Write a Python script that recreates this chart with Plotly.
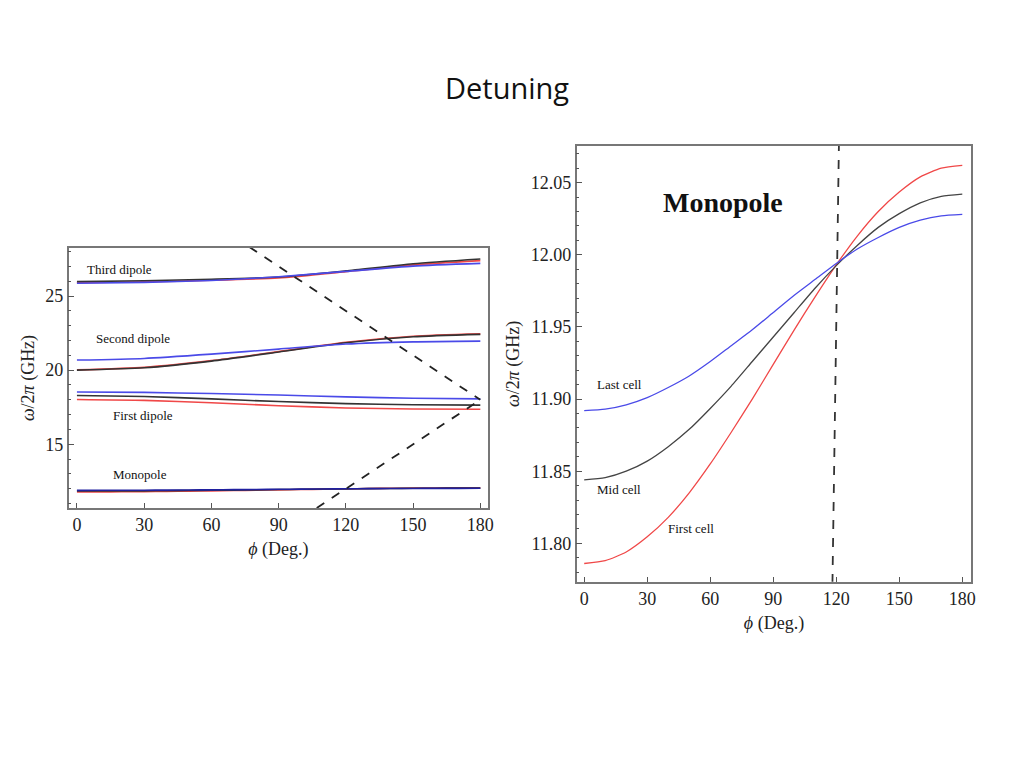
import plotly.graph_objects as go

# ---------------- data ----------------
phi_coarse = [0, 30, 60, 90, 120, 150, 180]

third_black = [25.97, 26.03, 26.13, 26.28, 26.70, 27.18, 27.50]
third_red = [25.90, 25.96, 26.06, 26.22, 26.64, 27.10, 27.39]
third_blue = [25.86, 25.92, 26.05, 26.30, 26.66, 27.02, 27.20]

second_red = [20.02, 20.19, 20.64, 21.25, 21.88, 22.29, 22.45]
second_black = [20.00, 20.16, 20.61, 21.22, 21.85, 22.25, 22.41]
second_blue = [20.68, 20.79, 21.08, 21.42, 21.76, 21.91, 21.96]

first_blue = [18.53, 18.50, 18.42, 18.32, 18.20, 18.10, 18.06]
first_black = [18.29, 18.22, 18.06, 17.88, 17.74, 17.67, 17.64]
first_red = [18.02, 17.96, 17.80, 17.60, 17.45, 17.38, 17.36]

phi_fine = [0, 10, 20, 30, 40, 50, 60, 70, 80, 90,
            100, 110, 120, 130, 140, 150, 160, 170, 180]
mono_last = [11.892, 11.893, 11.896, 11.901, 11.908, 11.916, 11.926,
             11.937, 11.948, 11.960, 11.972, 11.983, 11.994, 12.004,
             12.012, 12.019, 12.024, 12.027, 12.028]
mono_mid = [11.844, 11.8455, 11.850, 11.857, 11.867, 11.879, 11.8935,
            11.909, 11.926, 11.943, 11.960, 11.977, 11.9925, 12.0065,
            12.019, 12.0285, 12.036, 12.0405, 12.042]
mono_first = [11.786, 11.788, 11.794, 11.8045, 11.818, 11.835, 11.855,
              11.877, 11.900, 11.924, 11.948, 11.971, 11.993, 12.013,
              12.030, 12.0435, 12.054, 12.060, 12.062]

light1_phi = [77, 180]
light1_w = [28.3, 18.0]
light2_phi = [107, 180]
light2_w = [10.7, 18.0]
vline_phi = [118.06, 121.4]
vline_w = [11.76, 12.09]

x_ticks = [0, 30, 60, 90, 120, 150, 180]

# ---------------- styles ----------------
RED = "#f04848"
BLACK = "#333333"
BLUE = "#4a4ae8"
SERIF = "Liberation Serif, Times New Roman, serif"
W, H = 1024, 768
OFF = 8  # page body margin


def dx(px):
    return (px - OFF) / W


def dy(py):
    return 1 - (py - OFF) / H


fig = go.Figure()


def add_line(x, y, color, xa, ya, width=1.6, dash=None, smooth=True):
    if dash is None and smooth:
        line = dict(color=color, width=width, shape="spline", smoothing=0.6)
    else:
        line = dict(color=color, width=width, dash=dash)
    fig.add_trace(go.Scatter(x=x, y=y, mode="lines", xaxis=xa, yaxis=ya,
                             line=line, showlegend=False, hoverinfo="skip"))


# left panel
for red, blk, blu in [(third_red, third_black, third_blue),
                      (second_red, second_black, second_blue),
                      (first_red, first_black, first_blue)]:
    add_line(phi_coarse, red, RED, "x", "y")
    add_line(phi_coarse, blk, BLACK, "x", "y")
    add_line(phi_coarse, blu, BLUE, "x", "y")
add_line(phi_fine, mono_first, RED, "x", "y")
add_line(phi_fine, mono_mid, BLACK, "x", "y")
add_line(phi_fine, mono_last, "#2020a0", "x", "y")
add_line(light1_phi, light1_w, "#222222", "x", "y", width=1.8, dash="dash")
add_line(light2_phi, light2_w, "#222222", "x", "y", width=1.8, dash="dash")

# right panel
add_line(phi_fine, mono_first, RED, "x2", "y2", width=1.3)
add_line(phi_fine, mono_mid, "#444444", "x2", "y2", width=1.3)
add_line(phi_fine, mono_last, BLUE, "x2", "y2", width=1.3)
add_line(vline_phi, vline_w, "#333333", "x2", "y2", width=1.8, dash="dash")

axis_common = dict(
    showgrid=False, zeroline=False, showline=True, mirror=True,
    linecolor="#777777", linewidth=1.5, ticks="inside", tickcolor="#555555",
    tickfont=dict(family=SERIF, size=18, color="#222222"),
)
title_font = dict(family=SERIF, size=18, color="#222")

fig.update_layout(
    width=W, height=H,
    margin=dict(l=0, r=0, t=0, b=0),
    paper_bgcolor="white", plot_bgcolor="white",
    xaxis=dict(domain=[dx(69), dx(491)], range=[-3.7, 183.5],
               tickvals=x_ticks, ticklen=5, anchor="y",
               title=dict(text="<i>ϕ</i> (Deg.)", standoff=8,
                          font=title_font),
               **axis_common),
    yaxis=dict(domain=[dy(508), dy(248)], range=[10.7, 28.24],
               tickvals=[15, 20, 25], ticklen=6, anchor="x",
               minor=dict(ticks="inside", dtick=1, ticklen=3,
                          tickcolor="#555555"),
               title=dict(text="<i>ω</i>/2<i>π</i> (GHz)", standoff=6,
                          font=title_font),
               **axis_common),
    xaxis2=dict(domain=[dx(580), dx(977)], range=[-3.6, 184.3],
                tickvals=x_ticks, ticklen=5, anchor="y2",
                title=dict(text="<i>ϕ</i> (Deg.)", standoff=8,
                           font=title_font),
                **axis_common),
    yaxis2=dict(domain=[dy(581.7), dy(146)], range=[11.7734, 12.0754],
                tickvals=[11.80, 11.85, 11.90, 11.95, 12.00, 12.05],
                tickformat=".2f", ticklen=6, anchor="x2",
                minor=dict(ticks="inside", dtick=0.01, ticklen=3,
                           tickcolor="#555555"),
                title=dict(text="<i>ω</i>/2<i>π</i> (GHz)", standoff=6,
                           font=title_font),
                **axis_common),
)

annos = [
    ("x", "y", 3.5, 26.76, "Third dipole", 13, "left"),
    ("x", "y", 7.5, 22.16, "Second dipole", 13, "left"),
    ("x", "y", 15.1, 16.96, "First dipole", 13, "left"),
    ("x", "y", 15.1, 12.97, "Monopole", 13, "left"),
    ("x2", "y2", 66.3, 12.036, "<b>Monopole</b>", 28, "center"),
    ("x2", "y2", 5.2, 11.910, "Last cell", 13, "left"),
    ("x2", "y2", 5.2, 11.837, "Mid cell", 13, "left"),
    ("x2", "y2", 38.8, 11.810, "First cell", 13, "left"),
]
for xr, yr, xv, yv, txt, sz, xanc in annos:
    fig.add_annotation(x=xv, y=yv, xref=xr, yref=yr, text=txt,
                       showarrow=False, xanchor=xanc, yanchor="middle",
                       font=dict(family=SERIF, size=sz, color="#111111"))

fig.add_annotation(x=dx(510), y=dy(88), xref="paper", yref="paper",
                   text="Detuning", showarrow=False, xanchor="center",
                   yanchor="middle",
                   font=dict(family="Open Sans, sans-serif", size=29,
                             color="#111111"))

fig.write_html("out.html")
